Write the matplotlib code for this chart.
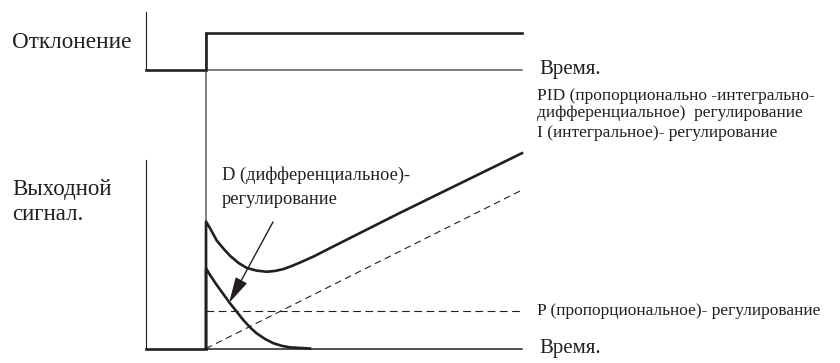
import matplotlib
matplotlib.use("Agg")
import matplotlib.pyplot as plt
from matplotlib.patches import ConnectionPatch

# time axis: step applied at t = 0, axis starts at t_left
t_left = -1.9
t_end = 10.0

# top panel: deviation (step input)
dev_t = [t_left, 0.0, 0.0, t_end]
dev_v = [0.0, 0.0, 1.0, 1.0]

# bottom panel: controller outputs
p_t = [0.0, t_end]
p_v = [1.0, 1.0]

i_t = [0.0, t_end]
i_v = [0.0, 4.17]

d_t = [0.0, 0.0, 0.13, 0.34, 0.55, 0.76, 0.97, 1.18, 1.39, 1.60, 1.87, 2.13, 2.40, 2.66, 3.29]
d_v = [0.0, 2.11, 1.93, 1.67, 1.43, 1.19, 0.97, 0.75, 0.56, 0.40, 0.25, 0.14, 0.07, 0.03, 0.0]

pid_t = [0.0, 0.0, 0.13, 0.34, 0.55, 0.76, 1.03, 1.29, 1.60, 1.92, 2.18, 2.45, 2.71, 2.97, 3.45, 3.92, 6.14, t_end]
pid_v = [0.0, 3.34, 3.16, 2.84, 2.63, 2.44, 2.25, 2.12, 2.05, 2.02, 2.04, 2.09, 2.17, 2.26, 2.44, 2.64, 3.57, 5.14]

ink = "#231f20"
bold = 1.9
thin = 0.8
plt.rcParams["font.family"] = ["Liberation Serif", "DejaVu Serif"]

fig = plt.figure(figsize=(8.4, 3.63), dpi=100)

ax_top = fig.add_axes([0.1738, 0.8072, 0.4476, 0.1606])
ax_bot = fig.add_axes([0.1738, 0.0399, 0.4476, 0.5193])

for ax in (ax_top, ax_bot):
    ax.set_xlim(t_left, t_end)
    ax.axis("off")
ax_top.set_ylim(0, 1.57)
ax_bot.set_ylim(0, 4.96)

# top panel
ax_top.plot([t_left, t_left], [0, 1.57], color=ink, lw=thin, clip_on=False)
ax_top.plot([0, t_end], [0, 0], color="#666666", lw=1.2, clip_on=False)
ax_top.plot(dev_t, dev_v, color=ink, lw=bold, clip_on=False,
            solid_joinstyle="miter")
ax_top.text(t_end + 0.55, 0, "Время.", fontsize=15, va="center", ha="left",
            color=ink)

# bottom panel axes
ax_bot.plot([t_left, t_left], [0, 4.96], color=ink, lw=thin, clip_on=False)
ax_bot.plot([t_left, 0], [0, 0], color=ink, lw=bold, clip_on=False)
ax_bot.plot([0, t_end], [0, 0], color=ink, lw=thin + 0.3, clip_on=False)

# thin time marker through both panels
con = ConnectionPatch(xyA=(0, 1.0), coordsA=ax_top.transData,
                      xyB=(0, 0), coordsB=ax_bot.transData,
                      color=ink, lw=thin)
fig.add_artist(con)

ax_bot.plot(p_t, p_v, color=ink, lw=thin, dashes=(7, 4), clip_on=False)
ax_bot.plot(i_t, i_v, color=ink, lw=thin, dashes=(6, 4), clip_on=False)
ax_bot.plot(d_t, d_v, color=ink, lw=bold, clip_on=False)
ax_bot.plot(pid_t, pid_v, color=ink, lw=bold, clip_on=False)

# labels on the right
lx = 10.47
fs = 12.5
ax_bot.text(lx, 6.65, "PID (пропорционально -интегрально-", fontsize=fs,
            va="center", color=ink)
ax_bot.text(lx, 6.19, "дифференциальное)  регулирование", fontsize=fs,
            va="center", color=ink)
ax_bot.text(lx, 5.68, "I (интегральное)- регулирование", fontsize=fs,
            va="center", color=ink)
ax_bot.text(lx, 1.0, "P (пропорциональное)- регулирование", fontsize=fs,
            va="center", color=ink)
ax_bot.text(t_end + 0.55, 0, "Время.", fontsize=15, va="center", ha="left",
            color=ink)

# D annotation with arrow
ax_bot.text(0.5, 4.57, "D (дифференциальное)-", fontsize=13.2, va="center",
            color=ink)
ax_bot.text(0.5, 3.91, "регулирование", fontsize=13.2, va="center", color=ink)
ax_bot.annotate("", xy=(0.73, 1.20), xytext=(2.12, 3.33),
                arrowprops=dict(arrowstyle="-|>,head_length=0.8,head_width=0.2",
                                mutation_scale=20, color=ink, lw=1.0,
                                shrinkA=0, shrinkB=0))

# left titles
fig.text(12 / 840, 1 - 42 / 363, "Отклонение", fontsize=16.7, va="center",
         color=ink)
fig.text(12 / 840, 1 - 190 / 363, "Выходной", fontsize=16.5, va="center",
         color=ink)
fig.text(12 / 840, 1 - 214 / 363, "сигнал.", fontsize=16.5, va="center",
         color=ink)

fig.savefig("out.png", dpi=100)
